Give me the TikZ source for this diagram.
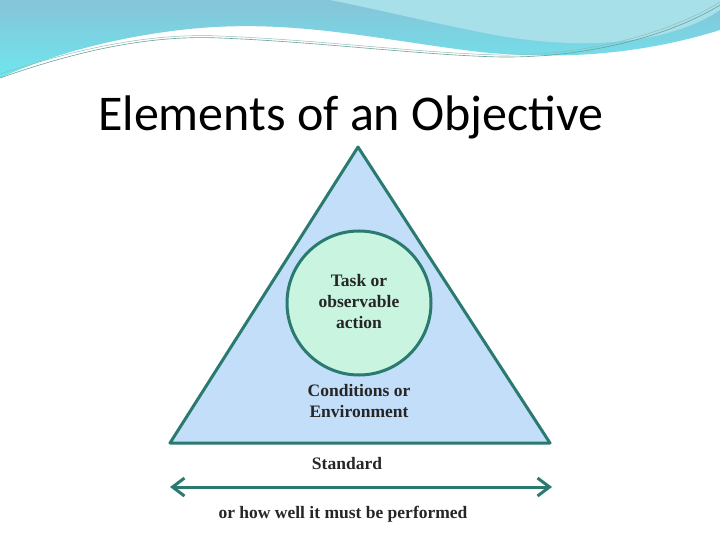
\documentclass[tikz,border=0pt]{standalone}
\usepackage{fontspec}
\setmainfont{Liberation Serif}
\newfontfamily\titlefont{Carlito}
\usetikzlibrary{arrows.meta}
\definecolor{tealc}{HTML}{2A7A70}
\definecolor{trifill}{HTML}{C2DEF8}
\definecolor{circfill}{HTML}{C8F4E0}
\definecolor{wave1}{HTML}{86C4D8}
\definecolor{wave2}{HTML}{6EE6EE}
\definecolor{wave3}{HTML}{A8E0EA}
\tikzset{lbl/.style={font=\bfseries\fontsize{17.5}{21}\selectfont, align=center, text=black!85}}
\begin{document}
\begin{tikzpicture}[x=1pt,y=-1pt]
\useasboundingbox (0,0) rectangle (720,540);
% top wave
\shade[top color=wave1, bottom color=wave2] (0,0) -- (720,0) -- (720,30) .. controls (640,55) and (560,60) .. (480,52) .. controls (380,40) and (300,20) .. (200,28) .. controls (120,35) and (50,55) .. (0,78) -- cycle;
\fill[wave3] (330,0) -- (720,0) -- (720,10) .. controls (660,50) and (560,50) .. (470,30) .. controls (420,20) and (380,10) .. (330,0) -- cycle;
\draw[tealc!70, line width=0.6pt] (0,78) .. controls (80,50) and (150,35) .. (220,38) .. controls (320,42) and (420,55) .. (500,57) .. controls (600,58) and (680,30) .. (720,5);
\draw[tealc!50, line width=0.5pt] (0,74) .. controls (80,48) and (150,33) .. (220,36) .. controls (320,40) and (420,53) .. (500,55) .. controls (600,56) and (680,27) .. (720,2);
% title
\node[font=\titlefont\fontsize{50}{58}\selectfont] (title) at (351,117) {Elements of an Objective};
% triangle
\coordinate (apex) at (358,147);
\coordinate (bl) at (170,443);
\coordinate (br) at (550,443);
\draw[tealc, line width=3pt, fill=trifill, line join=round] (apex) -- (bl) -- (br) -- cycle;
\node[circle, draw=tealc, line width=3pt, fill=circfill, minimum size=144pt] (circ) at (359,303) {};
\node[lbl] (task) at (359,302) {Task or\\observable\\action};
\node[lbl] (cond) at (359,401) {Conditions or\\Environment};
\node[lbl] (std) at (347,464) {Standard};
\coordinate (al) at (170,487);
\coordinate (ar) at (552,487);
\draw[tealc, line width=3pt, {Straight Barb[length=12pt,width=18pt]}-{Straight Barb[length=12pt,width=18pt]}] (al) -- (ar);
\node[lbl] (how) at (343,514) {or how well it must be performed};
\end{tikzpicture}
\end{document}
